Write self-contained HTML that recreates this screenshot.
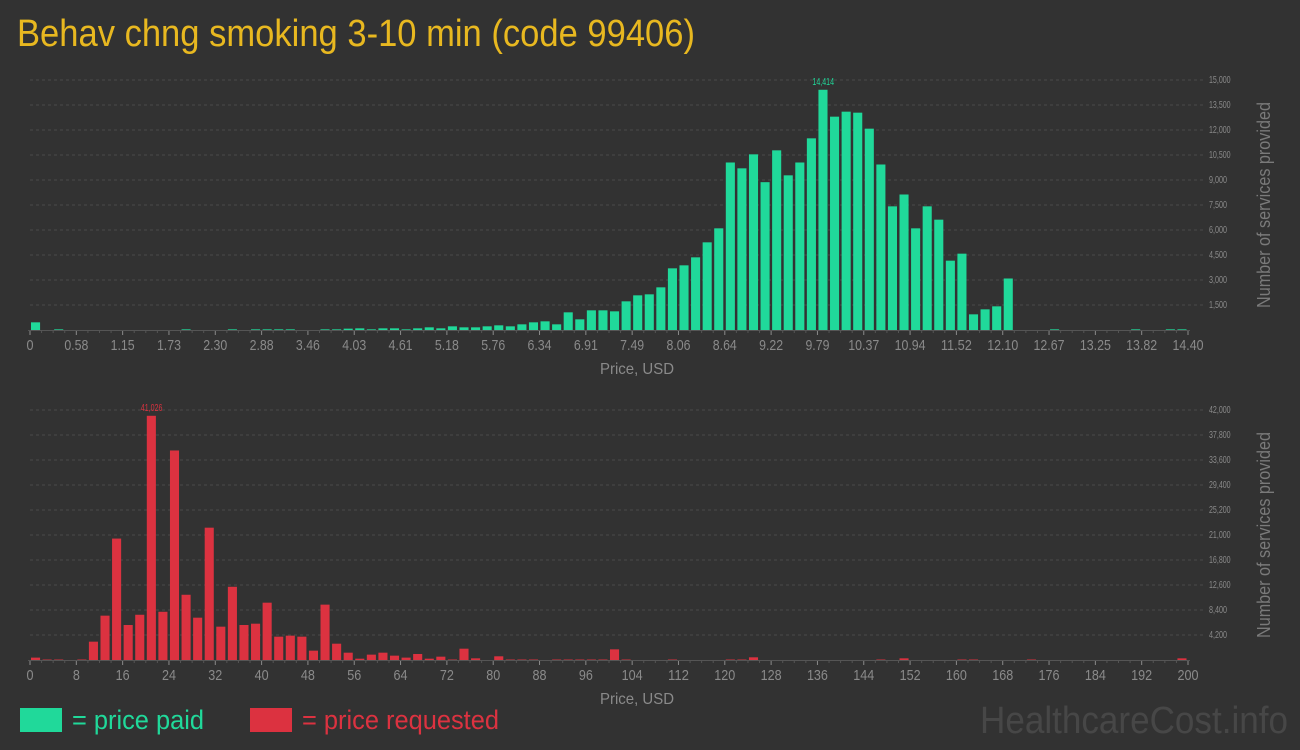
<!DOCTYPE html>
<html><head><meta charset="utf-8"><style>
html,body{margin:0;padding:0;background:#323232;}
svg{display:block;font-family:"Liberation Sans Narrow","Liberation Sans",sans-serif;}
</style></head><body>
<svg id="c" width="1300" height="750" xmlns="http://www.w3.org/2000/svg">
<rect x="0" y="0" width="1300" height="750" fill="#323232"/>
<text x="17" y="46" fill="#e8b820" font-size="38" textLength="678" lengthAdjust="spacingAndGlyphs">Behav chng smoking 3-10 min (code 99406)</text>
<rect x="20" y="708" width="42" height="24" fill="#20d99a"/>
<text x="72" y="729" fill="#20d99a" font-size="27" textLength="132" lengthAdjust="spacingAndGlyphs">= price paid</text>
<rect x="250" y="708" width="42" height="24" fill="#dc3240"/>
<text x="302" y="729" fill="#dc3240" font-size="27" textLength="197" lengthAdjust="spacingAndGlyphs">= price requested</text>
<text x="1288" y="733" text-anchor="end" fill="#474747" font-size="38" textLength="308" lengthAdjust="spacingAndGlyphs">HealthcareCost.info</text>
<g id="top"></g><g id="bot"></g>
</svg>
<script>
// Top chart data (price paid), 100 bins of 0.144 USD
const paidBins = [460,0,40,0,0,0,0,0,0,0,0,0,0,40,0,0,0,40,0,40,40,40,40,0,0,40,40,80,100,40,100,100,40,100,160,100,220,160,160,220,280,220,340,460,520,340,1060,640,1180,1180,1120,1720,2080,2140,2560,3700,3880,4360,5260,6100,10050,9700,10540,8870,10780,9280,10050,11500,14414,12800,13100,13040,12080,9930,7420,8130,6100,7420,6620,4160,4580,940,1240,1420,3090,0,0,0,40,0,0,0,0,0,0,40,0,0,40,40];
const paidXLabels = ["0","0.58","1.15","1.73","2.30","2.88","3.46","4.03","4.61","5.18","5.76","6.34","6.91","7.49","8.06","8.64","9.22","9.79","10.37","10.94","11.52","12.10","12.67","13.25","13.82","14.40"];
const paidYTicks = [1500,3000,4500,6000,7500,9000,10500,12000,13500,15000];
const paidMax = 15000;
const paidPeakLabel = "14,414";
// Bottom chart data (price requested), 100 bins of 2 USD
const reqBins = [400,80,80,0,80,3080,7450,20400,5880,7600,41026,8100,35200,10960,7110,22230,5600,12300,5880,6100,9630,3920,4090,3920,1570,9300,2740,1230,220,900,1230,730,400,1010,220,560,80,1900,280,0,620,80,80,80,0,80,80,80,80,80,1790,80,0,0,0,80,0,0,0,0,80,80,450,0,0,0,0,0,0,0,0,0,0,80,0,280,0,0,0,0,80,80,0,0,0,0,80,0,0,0,0,0,0,0,0,0,0,0,0,280];
const reqXLabels = ["0","8","16","24","32","40","48","56","64","72","80","88","96","104","112","120","128","136","144","152","160","168","176","184","192","200"];
const reqYTicks = [4200,8400,12600,16800,21000,25200,29400,33600,37800,42000];
const reqMax = 42000;
const reqPeakLabel = "41,026";

const NS="http://www.w3.org/2000/svg";
function mk(parent,tag,attrs,text){const e=document.createElementNS(NS,tag);for(const k in attrs)e.setAttribute(k,attrs[k]);if(text!==undefined)e.textContent=text;parent.appendChild(e);return e;}
const X0=30,X1=1188;
function drawChart(g,bins,xLabels,yTicks,maxV,peakLabel,color,base,topY,name){
  const n=bins.length, bw=(X1-X0)/n;
  const xs=i=>X0+i*bw;
  const ys=v=>base-(v/maxV)*(base-topY);
  yTicks.forEach(t=>{
    const l=mk(g,'line',{x1:X0,x2:1205,y1:ys(t),y2:ys(t),stroke:'#4a4a4a','stroke-dasharray':'3,3'});
    
    
    const s=t.toLocaleString('en-US');
    const tx=mk(g,'text',{x:1209,y:ys(t)+3,fill:'#8a8a8a','font-size':'10',textLength:s.length*3.6,lengthAdjust:'spacingAndGlyphs'},s);
    
    
  });
  let peak=0;bins.forEach((v,i)=>{if(v>bins[peak])peak=i;});
  bins.forEach((v,i)=>{
    if(v<=0)return;
    const r=mk(g,'rect',{x:xs(i)+1,y:ys(v),width:bw-2.5,height:base-ys(v),fill:color});
    
    
  });
  const pl=mk(g,'text',{x:xs(peak)+bw/2,y:ys(bins[peak])-5,fill:color,'font-size':'10','text-anchor':'middle',textLength:peakLabel.length*3.6,lengthAdjust:'spacingAndGlyphs'},peakLabel);
  
  
  const ax=mk(g,'line',{x1:X0-2,x2:X1+2,y1:base+0.5,y2:base+0.5,stroke:'#555','stroke-width':'1'});
  
  
  for(let i=0;i<=n;i++){
    const maj=i%4===0;
    const tk=mk(g,'line',{x1:xs(i),x2:xs(i),y1:base+1,y2:base+(maj?5:3),stroke:maj?'#8a8a8a':'#555'});
    
    
  }
  xLabels.forEach((s,k)=>{
    const w=s.replace('.','').length*7+(s.includes('.')?3:0);
    const tx=mk(g,'text',{x:xs(k*4),y:base+20,fill:'#8a8a8a','font-size':'15','text-anchor':'middle',textLength:w,lengthAdjust:'spacingAndGlyphs'},s);
    
    
  });
  const xt=mk(g,'text',{x:637,y:base+44,fill:'#8a8a8a','font-size':'16','text-anchor':'middle',textLength:74,lengthAdjust:'spacingAndGlyphs'},'Price, USD');
  
  
  const cy=(topY+base)/2;
  const yt=mk(g,'text',{x:1270,y:cy,fill:'#7a7a7a','font-size':'18','text-anchor':'middle',textLength:206,lengthAdjust:'spacingAndGlyphs',transform:'rotate(-90 1270 '+cy+')'},'Number of services provided');
  
  
}
drawChart(document.getElementById('top'),paidBins,paidXLabels,paidYTicks,paidMax,paidPeakLabel,'#20d99a',330,80,'paid');
drawChart(document.getElementById('bot'),reqBins,reqXLabels,reqYTicks,reqMax,reqPeakLabel,'#dc3240',660,410,'requested');
</script>
</body></html>
